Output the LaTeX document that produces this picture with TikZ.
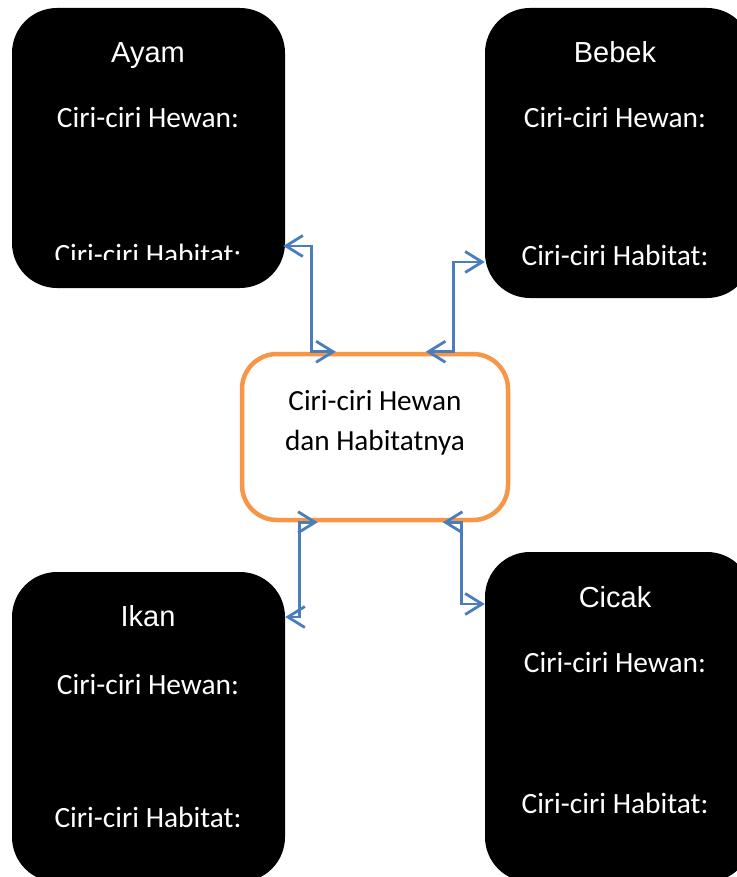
\documentclass[tikz,border=0pt]{standalone}
\usepackage{fontspec}
\setmainfont{Carlito}
\newfontfamily\arialfont{Liberation Sans}
\usetikzlibrary{arrows.meta, positioning, calc}
\definecolor{linkblue}{RGB}{74,126,187}
\definecolor{hubline}{RGB}{247,150,70}

\begin{document}
\begin{tikzpicture}[x=1pt, y=-1pt,
        animal/.style={rectangle, rounded corners=45pt, fill=black, inner sep=0pt},
        hub/.style={rectangle, rounded corners=35pt, draw=hubline, line width=4.5pt, fill=white,
            minimum width=266pt, minimum height=166pt},
        animalname/.style={text=white, inner sep=0pt, anchor=base, font=\arialfont\fontsize{29}{33}\selectfont},
        trait/.style={text=white, inner sep=0pt, anchor=base, font=\fontsize{29.4}{34}\selectfont},
        hubtext/.style={inner sep=0pt, anchor=base, font=\fontsize{29.2}{34}\selectfont},
        duallink/.style={draw=linkblue, line width=2.8pt,
            {Straight Barb[length=17pt,width=21pt]}-{Straight Barb[length=17pt,width=21pt]}}
    ]
        \useasboundingbox (0,0) rectangle (736,877);

        % Kotak hewan
        \node[animal, minimum width=273pt, minimum height=280pt] (ayam) at (148.5,148) {};
        \node[animal, minimum width=267pt, minimum height=290pt] (bebek) at (618.5,153) {};
        \node[animal, minimum width=273pt, minimum height=310pt] (ikan) at (148.5,727) {};
        \node[animal, minimum width=267pt, minimum height=330pt] (cicak) at (618.5,717) {};

        % Kotak tengah
        \node[hub] (pusat) at (375,437) {};
        \node[hubtext] (pusat1) at (375,410) {Ciri-ciri Hewan};
        \node[hubtext] (pusat2) at (375,450) {dan Habitatnya};

        % Isi kotak
        \node[animalname] (ayamnama) at (148,63) {Ayam};
        \node[trait] (ayamhewan) at (148,128) {Ciri-ciri Hewan:};
        \begin{scope}
            \clip (12,8) rectangle (285,259);
            \node[trait] (ayamhabitat) at (148,264) {Ciri-ciri Habitat:};
        \end{scope}

        \node[animalname] (bebeknama) at (615,63) {Bebek};
        \node[trait] (bebekhewan) at (615,128) {Ciri-ciri Hewan:};
        \node[trait] (bebekhabitat) at (615,265) {Ciri-ciri Habitat:};

        \node[animalname] (ikannama) at (148,626) {Ikan};
        \node[trait] (ikanhewan) at (148,694) {Ciri-ciri Hewan:};
        \node[trait] (ikanhabitat) at (148,827) {Ciri-ciri Habitat:};

        \node[animalname] (cicaknama) at (615,607) {Cicak};
        \node[trait] (cicakhewan) at (615,672) {Ciri-ciri Hewan:};
        \node[trait] (cicakhabitat) at (615,813) {Ciri-ciri Habitat:};

        % Titik sambung
        \coordinate (a1) at ($(ayam.east)+(-2,98)$);
        \coordinate (b1) at ($(bebek.west)+(0,109)$);
        \coordinate (i1) at ($(ikan.east)+(0,-110)$);
        \coordinate (c1) at ($(cicak.west)+(0,-113)$);
        \coordinate (p1) at ($(pusat.north west)+(96,0)$);
        \coordinate (p2) at ($(pusat.north west)+(186,0)$);
        \coordinate (p3) at ($(pusat.south west)+(78,0)$);
        \coordinate (p4) at ($(pusat.south west)+(203,0)$);

        % Panah dua arah
        \draw[duallink] (a1) -- ++(28,0) |- (p1);
        \draw[duallink] (p2) -- ++(28,0) |- (b1);
        \draw[duallink] (p3) -- ++(-18,0) |- (i1);
        \draw[duallink] (p4) -- ++(19,0) |- (c1);
    \end{tikzpicture}
\end{document}
